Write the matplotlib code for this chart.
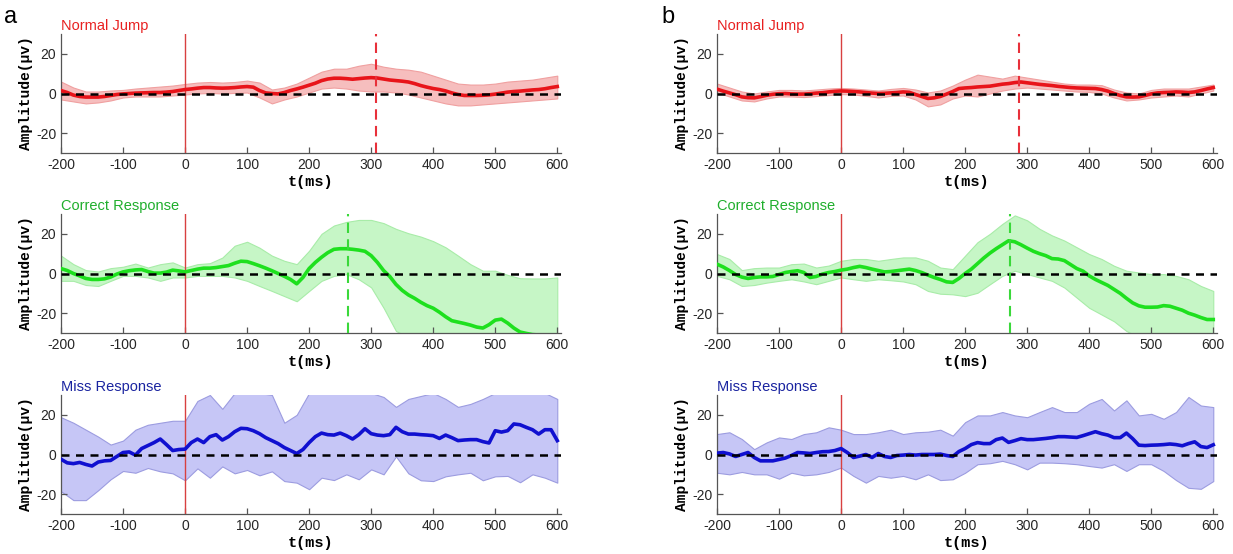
import numpy as np
import matplotlib
matplotlib.use('Agg')
import matplotlib.pyplot as plt

# time grids (ms): mean traces every 10 ms, band edges every 20 ms
t = np.arange(-200, 601, 10)
tb = np.arange(-200, 601, 20)

# ---- panel a ----
a_jump_mean = [1.5, 0.5, -0.8, -1.5, -1.8, -1.8, -1.8, -1.5, -1.0, -0.5,
               -0.2, 0.0, 0.2, 0.3, 0.4, 0.5, 0.5, 0.7, 1.0, 1.5,
               2.0, 2.3, 2.7, 3.0, 3.0, 2.8, 2.7, 2.8, 3.0, 3.3,
               3.5, 3.2, 1.5, 0.3, 0.0, -0.2, 0.5, 1.5, 2.3, 3.2,
               4.2, 5.2, 6.5, 7.3, 7.7, 7.7, 7.5, 7.2, 7.5, 7.8,
               8.0, 7.8, 7.3, 6.8, 6.5, 6.2, 5.8, 5.0, 4.0, 3.2,
               2.5, 2.0, 1.3, 0.3, -0.5, -1.0, -1.0, -1.0, -0.9, -0.7,
               -0.3, 0.2, 0.7, 1.0, 1.2, 1.5, 1.8, 2.0, 2.4, 3.0,
               3.5]
a_jump_hi = [6, 3, 1, 1, 1.5, 1.8, 2.5, 3, 3.5, 4,
             4.8, 5.5, 5.8, 5.5, 5.8, 6.5, 5.5, 2, 3, 5,
             8, 11, 12.5, 12.5, 14, 15, 13.5, 12.5, 12, 11,
             9, 7, 5, 4.5, 4.5, 5, 6, 6.5, 7, 8,
             9]
a_jump_lo = [-3, -4, -5, -4.5, -3.5, -2, -1.5, -1.5, -1.5, -1,
             -0.5, 0, 0.3, 0, 0.3, 0.5, -2, -5, -3, -1.5,
             0.5, 2.5, 3, 2.5, 1.5, 1, 1, 0.5, -0.5, -2,
             -3.5, -5, -6, -6, -5.5, -5, -4.5, -4, -3.5, -3,
             -2.5]

a_corr_mean = [2.5, 1.5, 0, -1.2, -2.5, -3, -3, -2.7, -1.8, -0.3,
               0.8, 1.4, 1.8, 2.0, 1.0, 0.2, 0.2, 0.7, 1.7, 1.3,
               0.8, 1.5, 2.2, 2.7, 2.7, 3.0, 3.5, 4.0, 5.2, 6.2,
               6.0, 5.0, 3.9, 2.7, 1.4, 0, -1.4, -3, -5.2, -2,
               2.5, 5.6, 8.2, 10.5, 12.2, 12.5, 12.5, 12.2, 11.8, 11.2,
               9, 5.6, 1.5, -1.5, -5.5, -8.5, -10.8, -12.5, -14.5, -16.2,
               -17.5, -19.5, -21.8, -23.8, -24.5, -25.2, -26, -27, -27.5, -25.8,
               -23.5, -23, -25, -27.5, -29.5, -30.2, -30.8, -31, -31, -31,
               -31]
a_corr_hi = [9, 4.7, 1.7, 1, 2.7, 3.4, 5, 3, 4.7, 5.6,
             3, 4.7, 5.2, 8, 14, 16, 13, 9, 6.4, 4.7,
             11.5, 20, 24.2, 26, 27, 27, 25.4, 22.5, 20.3, 18.6,
             16.3, 13.2, 9, 4.7, 1.4, 1.4, -0.7, -2.4, -2.5, -2.5,
             -2]
a_corr_lo = [-3.7, -3.7, -5.8, -6.3, -3.7, -1.2, -1.2, -2, -3.7, -2,
             -2, -1.2, -1.2, -1.2, -2, -3.7, -6.3, -8.8, -11.4, -14,
             -8.8, -3.7, -1.2, -0.3, -2.9, -7, -17.3, -29, -32, -32,
             -32, -32, -32, -32, -32, -32, -32, -32, -32, -32,
             -32]

a_miss_mean = [-2.4, -4.2, -4.6, -4, -5, -5.8, -3.8, -3.2, -3, -1,
               1, 1.3, -0.3, 3, 4.5, 6, 7.8, 5, 2, 2.5,
               2.7, 6, 7.8, 6, 9, 10, 7.3, 9, 11.5, 13.2,
               13, 12, 10.5, 8.5, 7, 5.5, 3.5, 2, 0.5, 2.5,
               6, 9, 10.8, 10, 9.8, 10.8, 9.5, 7.8, 10, 13,
               10.5, 9.8, 9.5, 10, 13.7, 11.5, 10.3, 10.3, 10, 9.8,
               9.5, 8.1, 9.8, 8.5, 7, 7.3, 7.5, 7.5, 6.5, 5.8,
               12, 11.3, 12, 15.4, 15, 13.7, 12.5, 10.3, 12.5, 12.5,
               7]
a_miss_hi = [18.8, 16, 12.5, 9, 5, 7, 12.5, 15, 16, 17,
             17, 27, 30, 23, 31, 31, 31, 30, 16, 20,
             31, 31, 31, 31, 31, 31, 29, 24, 28, 29.5,
             31, 28, 24, 25.5, 28, 31, 31, 31, 31, 31,
             28]
a_miss_lo = [-18.5, -23, -23, -18, -12.5, -8.3, -9.2, -6.8, -8.5, -9.5,
             -13, -7, -11.7, -6, -9.5, -7.8, -10.5, -8.5, -13.4, -14.2,
             -17.5, -11.7, -12.9, -10, -12.5, -7.5, -10, -1, -9.5, -13,
             -13.4, -11, -10, -9.2, -13, -11, -10.8, -14, -10, -11.7,
             -14.2]

# ---- panel b ----
b_jump_mean = [2.2, 1.2, 0.3, -0.6, -1.7, -2.1, -2.2, -1.6, -0.9, -0.4,
               -0.1, 0, -0.2, -0.3, -0.3, -0.1, 0.2, 0.4, 0.8, 1.1,
               1.3, 1.2, 1.0, 0.8, 0.5, 0.2, 0, 0.1, 0.3, 0.5,
               0.8, 0.6, -0.5, -1.5, -2.5, -2.2, -1.5, -0.3, 1.0, 2.5,
               2.8, 3.0, 3.3, 3.5, 3.7, 4.2, 4.7, 5.0, 5.5, 5.8,
               5.4, 5.0, 4.6, 4.3, 4.0, 3.6, 3.3, 3.0, 2.8, 2.7,
               2.6, 2.5, 2.0, 1.2, 0, -1.0, -1.7, -1.8, -1.7, -1.0,
               -0.2, 0.3, 0.5, 0.6, 0.8, 0.7, 0.5, 0.8, 1.5, 2.3,
               3.0]
b_jump_hi = [5, 3, 1, 0, 1, 1.8, 1.8, 1.5, 2, 2.5,
             2.8, 2.5, 2, 1.5, 2.3, 2.8, 2, 0.5, 1.5, 4,
             7, 9.5, 8.5, 7.5, 9, 8, 7, 6, 5, 4.5,
             4.5, 4.2, 2, 0.5, 0, 1.8, 2.5, 2.5, 2.5, 3.5,
             4.5]
b_jump_lo = [0.5, -1.5, -3.5, -4, -2.5, -1.5, -1.5, -1.8, -1.3, -0.8,
             -0.3, -0.5, -1.2, -2, -1.2, -1, -3, -6.5, -5.5, -2.5,
             -1, -1.5, 0, 1.5, 2.5, 3, 2.5, 2, 1.5, 1,
             0.8, 0, -2, -3.5, -3, -2, -1.5, -1, -1.5, 0,
             1.5]

b_corr_mean = [4.7, 3.3, 1.5, -0.5, -1.8, -2.5, -2, -1.7, -1.7, -1.5,
               -0.5, 0.5, 1, 1.4, 0.5, -2, -1.5, -0.3, 0.5, 1,
               1.7, 2.2, 3.0, 3.6, 3, 2.2, 1.5, 0.8, 1.0, 1.4,
               1.8, 2.2, 1.5, 0.5, -0.8, -2, -3, -4.2, -4.5, -2.5,
               0, 2.2, 5, 7.8, 10.3, 12.5, 14.5, 16.5, 16, 14.5,
               12.8, 11.2, 10, 9, 7.5, 7.3, 6.5, 4.5, 2.5, 1.2,
               -1.2, -3, -4.5, -6, -8, -10, -12.5, -14.8, -16.3, -17,
               -17, -16.9, -16.2, -16.5, -17.5, -18.5, -20, -21, -22.2, -23.2,
               -23.2]
b_corr_hi = [9.8, 7.3, 1.7, 2.7, 3, 3, 4.7, 5, 3, 4,
             6.4, 7.3, 7.3, 6.4, 7.3, 8.1, 8.1, 6.4, 3, 2.2,
             9, 15.8, 20, 25, 29.3, 26.8, 22.5, 19.2, 16.6, 13.2,
             9.8, 7.3, 3.9, 1.4, 0.5, -0.3, -0.3, -1.2, -2.9, -6.3,
             -8.8]
b_corr_lo = [-1.2, -2.9, -6.3, -5.8, -4.6, -3.7, -2.9, -4, -5.4, -3.7,
             -2, -2.9, -3.7, -2.9, -3.4, -4, -5.4, -8.8, -10.2, -10.5,
             -11.4, -9.7, -5.4, -1.2, 1.4, -0.3, -2, -3.7, -7.1, -12.2,
             -17.3, -20.7, -24.1, -29, -32, -32, -32, -32, -32, -32,
             -32]

b_miss_mean = [0.7, 1, 0.3, -1, 0, 1, -1.5, -3.2, -3.2, -3.2,
               -2.5, -1.8, -0.5, 1, 0.8, 0.5, 1, 1.4, 1.5, 2,
               3, 1, -1.5, -0.8, 0, -1.5, 0.5, -1, -1.5, -0.5,
               -0.3, 0, -0.3, 0, 0, 0, 0.2, -0.5, -1, 1.5,
               3, 5, 6, 5.5, 5.5, 7.5, 8.3, 6.1, 7, 8,
               7.5, 7.5, 7.8, 8.1, 8.5, 9, 9, 8.8, 8.6, 9.5,
               10.5, 11.5, 10.5, 9.8, 8.5, 8.5, 10.8, 8, 4.7, 4.5,
               4.7, 4.8, 5, 5.3, 5, 4.4, 5.5, 6.4, 4, 3.5,
               4.9]
b_miss_hi = [10.3, 11.2, 7.8, 2.7, 6.1, 8.6, 7.8, 10.3, 11.2, 13.7,
             12.5, 10.3, 10.3, 11.2, 12.5, 10.3, 11.2, 11.5, 12.5, 9.5,
             16.3, 19.7, 19.7, 21.4, 19.7, 18.8, 21.4, 23.9, 21.4, 21.4,
             25.6, 28, 22.2, 27.3, 19.7, 20.5, 18, 21.4, 29, 24.7,
             23.9]
b_miss_lo = [-9.2, -10, -8.8, -10, -10, -12.2, -9.2, -10.5, -10, -8.8,
             -6.6, -10.8, -14.2, -10.8, -11.7, -10.8, -12.5, -10, -12.9, -12.5,
             -9.2, -4.9, -4.4, -3.2, -4.9, -7.5, -4.1, -4.1, -4.4, -4.9,
             -5.8, -6.6, -4.9, -8.3, -4.9, -4.9, -8.3, -12.9, -16.8, -17.3,
             -13.4]

# peak latency markers (ms)
a_peaks = [308, 262, None]
b_peaks = [287, 273, None]

titles = ['Normal Jump', 'Correct Response', 'Miss Response']
title_colors = ['#e82020', '#1fae2c', '#1a24a0']
line_colors = ['#e8141a', '#1ee01e', '#1010d0']
band_colors = ['#f6bebe', '#c6f6c6', '#c6c6f6']
edge_colors = ['#f0a0a0', '#a8eca8', '#9c9ce0']
peak_colors = ['#e8303a', '#3ad83a', None]

plt.rcParams['font.family'] = ['Liberation Sans', 'DejaVu Sans']
plt.rcParams['axes.unicode_minus'] = False

fig = plt.figure(figsize=(12.33, 5.54), dpi=100)

col_left = [61 / 1233, 717 / 1233]
col_w = 500 / 1233
row_bottom = [1 - 153 / 554, 1 - 333 / 554, 1 - 514 / 554]
row_h = 119 / 554

mono = ['Liberation Mono', 'DejaVu Sans Mono']

def draw_panel(ax, i, mean, hi, lo, peak):
    ax.fill_between(tb, lo, hi, facecolor=band_colors[i], edgecolor=edge_colors[i],
                    linewidth=0.8, zorder=1)
    ax.axvline(0, color='#d84040', linewidth=1.0, zorder=2)
    ax.plot(t, mean, color=line_colors[i], linewidth=2.6, zorder=3)
    ax.axhline(0, color='black', linestyle=(0, (3.2, 2.6)), linewidth=1.8, zorder=4)
    if peak is not None:
        ax.axvline(peak, color=peak_colors[i], linestyle=(0, (5, 3)), linewidth=1.5, zorder=5)
    ax.set_xlim(-200, 606)
    ax.set_ylim(-30, 30)
    ax.set_xticks(range(-200, 601, 100))
    ax.set_yticks([-20, 0, 20])
    for s in ['top', 'right']:
        ax.spines[s].set_visible(False)
    for s in ['left', 'bottom']:
        ax.spines[s].set_color('#555555')
        ax.spines[s].set_linewidth(0.9)
    ax.tick_params(direction='in', length=4, width=0.9, colors='#555555',
                   labelcolor='#262626', labelsize=10)
    ax.set_xlabel('t(ms)', fontfamily=mono, fontweight='bold', fontsize=11, labelpad=2)
    ax.set_ylabel('Amplitude(\u03bcv)', fontfamily=mono, fontweight='bold', fontsize=10.5, labelpad=2)
    ax.set_title(titles[i], loc='left', color=title_colors[i], fontsize=10.5, pad=3)

panels = [
    [(a_jump_mean, a_jump_hi, a_jump_lo), (a_corr_mean, a_corr_hi, a_corr_lo), (a_miss_mean, a_miss_hi, a_miss_lo)],
    [(b_jump_mean, b_jump_hi, b_jump_lo), (b_corr_mean, b_corr_hi, b_corr_lo), (b_miss_mean, b_miss_hi, b_miss_lo)],
]
peaks = [a_peaks, b_peaks]

for c in range(2):
    for r in range(3):
        ax = fig.add_axes([col_left[c], row_bottom[r], col_w, row_h])
        mean, hi, lo = panels[c][r]
        draw_panel(ax, r, mean, hi, lo, peaks[c][r])

fig.text(4 / 1233, 1 - 6 / 554, 'a', fontsize=17, va='top', ha='left')
fig.text(661 / 1233, 1 - 6 / 554, 'b', fontsize=17, va='top', ha='left')

fig.savefig('out.png', dpi=100)
